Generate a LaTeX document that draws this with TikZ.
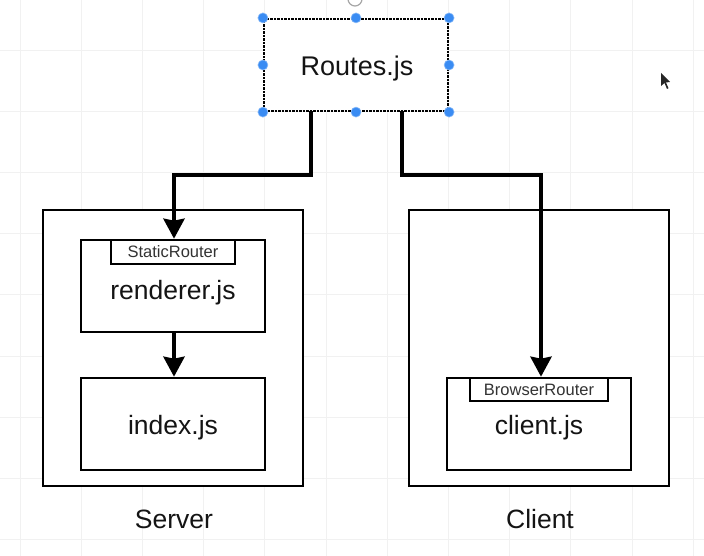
\documentclass[tikz,border=0pt]{standalone}
\usepackage{fontspec}
\setmainfont{Liberation Sans}
\usetikzlibrary{arrows.meta}
\definecolor{gridgray}{HTML}{F1F1F1}
\definecolor{handleblue}{HTML}{3A8CF3}
\tikzset{
  box/.style={draw=black, line width=2.6pt, fill=white, inner sep=0pt},
  tab/.style={draw=black, line width=2pt, fill=white, inner sep=0pt,
    font=\fontsize{16.5}{18}\selectfont, text=black!80},
  big/.style={font=\fontsize{26.5}{30}\selectfont, text=black!92, inner sep=0pt},
  conn/.style={line width=4pt, -{Stealth[length=20pt,width=21pt,inset=2pt]}},
  selected/.style={draw=black, line width=2.2pt, dash pattern=on 2.5pt off 1pt, fill=white, inner sep=0pt},
  handle/.style={circle, fill=handleblue, draw=handleblue!60, line width=0.6pt, minimum size=10pt, inner sep=0pt}
}
\begin{document}
\begin{tikzpicture}[x=1pt,y=-1pt]
  \useasboundingbox (0,0) rectangle (704,556);
  \fill[white] (0,0) rectangle (704,556);
  % faint canvas grid
  \foreach \i in {0,...,11} {
    \draw[gridgray, line width=0.8pt] (20+61.2*\i,0) -- (20+61.2*\i,556);
  }
  \foreach \j in {0,...,8} {
    \draw[gridgray, line width=0.8pt] (0,50+61.2*\j) -- (704,50+61.2*\j);
  }

  % container boxes
  \node[box, minimum width=260pt, minimum height=276pt] (server) at (173,348) {};
  \node[box, minimum width=260pt, minimum height=276pt] (client) at (539,348) {};
  \node[big] (serverlabel) at (174,519) {Server};
  \node[big] (clientlabel) at (540,519) {Client};

  % server side
  \node[box, minimum width=184pt, minimum height=92pt] (renderer) at (173,286) {};
  \node[tab, minimum width=124pt, minimum height=24pt] (static) at (173,252) {StaticRouter};
  \node[big] (renderertext) at (173,293) {renderer.js};
  \node[box, minimum width=184pt, minimum height=92pt] (index) at (173,424) {};
  \node[big] (indextext) at (173,428) {index.js};

  % client side
  \node[box, minimum width=184pt, minimum height=92pt] (clientjs) at (539,424) {};
  \node[tab, minimum width=138pt, minimum height=23pt] (browser) at (539,389.5) {BrowserRouter};
  \node[big] (clienttext) at (539,428) {client.js};

  % selected routes box with handles
  \node[selected, minimum width=184pt, minimum height=92pt] (routes) at (356,65) {};
  \node[big, font=\fontsize{27}{30}\selectfont] (routestext) at (357,69) {Routes.js};
  \draw[gray!70, line width=1.2pt] (355,-1) circle (7pt);
  \foreach \p/\n in {north west/a, north/b, north east/c, west/d, east/e, south west/f, south/g, south east/h} {
    \node[handle] (h\n) at (routes.\p) {};
  }

  % connectors
  \coordinate (outL) at (311,111);
  \coordinate (outR) at (402,111);
  \coordinate (bendL) at (174,175);
  \coordinate (bendR) at (541,175);
  \draw[conn] (outL) |- (bendL) -- (renderer.north -| bendL);
  \draw[conn] (outR) |- (bendR) -- (clientjs.north -| bendR);
  \draw[conn] (renderer.south -| bendL) -- (index.north -| bendL);

  % mouse pointer
  \fill[black!85] (661,73) -- (661,86) -- (664.5,83) -- (667,89) -- (668.5,88.2) -- (666,82.5) -- (670,82) -- cycle;
\end{tikzpicture}
\end{document}
